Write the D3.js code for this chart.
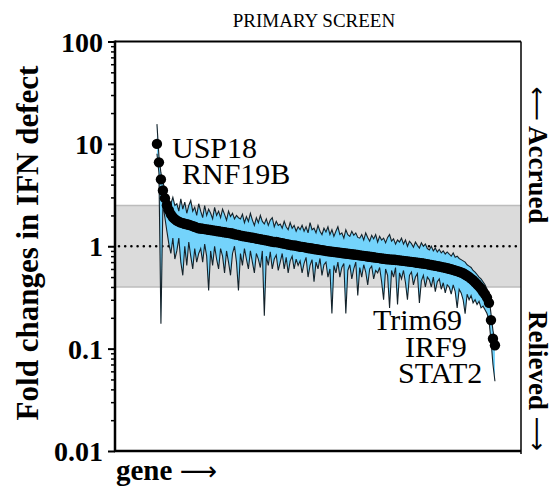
<!DOCTYPE html>
<html><head><meta charset="utf-8">
<script src="https://cdn.jsdelivr.net/npm/d3@7"></script>
<style>body{margin:0;background:#fff}svg{display:block}
text{font-family:"Liberation Serif","Times New Roman","DejaVu Serif",serif}
tspan.arr{font-family:"DejaVu Sans",sans-serif;font-weight:normal}</style>
</head><body>
<svg id="chart" width="554" height="493"></svg>
<script>
// ---- data (fold changes, genes sorted by mean) ----
const meanFold = [
10.0,6.6,4.5,3.5,2.95,2.52,2.25,2.05,1.92,1.84,
1.78,1.74,1.70,1.68,
1.66,1.64,1.62,1.60,1.57,1.55,1.52,1.50,
1.49,1.48,1.47,1.46,1.45,1.44,1.43,1.42,1.41,1.40,1.39,1.38,1.37,1.36,1.35,1.34,1.33,1.31,1.30,1.29,
1.27,1.26,1.25,1.24,1.23,1.22,1.21,1.20,1.19,1.18,1.17,1.16,1.15,1.14,1.13,1.12,1.11,1.10,1.10,1.09,
1.08,1.07,1.06,1.05,1.04,1.03,1.02,1.02,1.01,1.00,
0.99,0.985,0.98,0.97,0.96,0.955,0.95,0.94,0.935,0.93,0.92,0.915,0.91,0.90,0.895,
0.89,0.885,0.88,0.875,0.87,0.865,0.86,0.855,0.85,0.845,0.84,0.835,0.83,0.825,0.82,
0.815,0.81,0.805,0.80,0.795,0.79,0.785,0.78,0.775,0.77,0.765,0.76,0.755,0.75,0.747,0.744,0.741,0.738,0.735,0.732,
0.728,0.724,0.72,0.716,0.712,0.708,0.704,0.70,0.695,0.69,0.686,0.682,0.678,0.673,0.668,
0.662,0.656,0.65,0.645,0.64,0.634,0.628,0.622,0.616,0.61,
0.603,0.596,0.588,0.58,0.572,0.563,0.554,0.545,
0.53,0.515,0.50,0.483,0.465,
0.445,0.425,0.405,0.385,0.36,0.34,0.315,
0.28,0.19,0.125,0.108
];
const upperFold = [
15.6,7.6,5.2,4.2,3.6,3.1,2.9,2.6,3.0,2.5,
2.6,2.2,2.9,2.3,2.7,2.1,2.5,2.8,2.2,2.4,2.0,2.6,
2.2,1.9,2.5,2.0,2.3,2.1,1.85,2.4,2.0,2.2,1.9,2.3,2.05,1.8,2.2,1.95,2.1,1.85,2.0,1.9,
1.85,2.05,1.7,1.95,1.75,2.1,1.8,1.6,1.9,1.7,2.0,1.75,1.65,1.85,1.6,1.8,1.9,1.55,1.75,1.6,
1.65,1.5,1.75,1.55,1.45,1.7,1.5,1.6,1.4,1.55,
1.45,1.6,1.4,1.55,1.35,1.7,1.45,1.5,1.35,1.6,1.4,1.3,1.5,1.38,1.55,
1.3,1.45,1.25,1.4,1.55,1.3,1.35,1.2,1.45,1.3,1.25,1.4,1.28,1.35,1.22,
1.2,1.3,1.15,1.35,1.22,1.12,1.28,1.18,1.3,1.1,1.25,1.15,1.2,1.08,1.22,1.3,1.12,1.18,1.05,1.15,
1.1,1.2,1.05,1.15,1.0,1.12,1.06,0.98,1.1,1.02,0.96,1.08,1.0,1.05,0.95,
0.92,1.0,0.9,0.96,0.88,0.93,0.86,0.9,0.84,0.88,
0.84,0.8,0.86,0.78,0.8,0.76,0.74,0.72,
0.7,0.66,0.64,0.62,0.58,
0.56,0.53,0.5,0.48,0.45,0.42,0.38,
0.32,0.22,0.15,0.12
];
const lowerFold = [
8.0,5.2,0.175,2.6,1.9,1.4,1.05,0.85,1.2,0.75,
0.9,1.2,0.7,0.52,1.0,0.65,1.1,0.8,0.6,0.95,0.7,0.85,
0.95,0.7,1.05,0.8,0.37,0.9,0.65,1.0,0.75,0.6,0.95,0.8,0.55,0.9,0.7,0.52,0.85,1.0,0.7,0.37,
0.85,0.65,0.95,0.75,0.6,0.9,0.7,0.55,0.85,0.75,0.62,0.9,0.21,0.8,0.65,0.88,0.6,0.75,0.82,0.58,
0.7,0.85,0.6,0.78,0.55,0.72,0.8,0.6,0.75,0.65,
0.72,0.55,0.68,0.78,0.5,0.65,0.74,0.45,0.7,0.6,0.76,0.52,0.66,0.7,0.5,
0.6,0.22,0.65,0.55,0.7,0.5,0.62,0.68,0.22,0.58,0.66,0.48,0.6,0.7,0.33,
0.62,0.5,0.66,0.56,0.42,0.6,0.64,0.48,0.58,0.55,0.62,0.45,0.30,0.6,0.52,0.25,0.58,0.5,0.62,0.27,
0.55,0.48,0.58,0.44,0.30,0.52,0.56,0.42,0.5,0.54,0.28,0.46,0.52,0.4,0.5,
0.47,0.4,0.5,0.36,0.45,0.48,0.38,0.44,0.35,0.42,
0.4,0.34,0.42,0.36,0.25,0.38,0.35,0.3,
0.22,0.34,0.3,0.33,0.28,
0.3,0.27,0.29,0.25,0.26,0.24,0.22,
0.19,0.12,0.07,0.048
];
const majorTicks = [0.01, 0.1, 1, 10, 100];
const majorTickLabels = ["0.01", "0.1", "1", "10", "100"];
const minorMultipliers = [2,3,4,5,6,7,8,9];
const neutralBand = [0.4, 2.5];
const neutralLine = 1;
const topGenes = ["USP18", "RNF19B"];
const bottomGenes = ["Trim69", "IRF9", "STAT2"];

// ---- layout ----
const svg = d3.select("#chart");
const L = 115, R = 521, T = 41.5, B = 451;
const N = meanFold.length;
const x = d3.scaleLinear().domain([-21.1, N - 1 + 13.1]).range([L, R]);
const y = d3.scaleLog().domain([0.01, 100]).range([B, T]);
const genes = d3.range(N).map(i => ({i, m: meanFold[i], u: upperFold[i], l: lowerFold[i]}));

// grey neutral band
svg.append("rect").attr("x", L).attr("width", R - L)
  .attr("y", y(neutralBand[1])).attr("height", y(neutralBand[0]) - y(neutralBand[1]))
  .attr("fill", "#dbdbdb");
neutralBand.forEach(v => svg.append("line").attr("x1", L).attr("x2", R)
  .attr("y1", y(v)).attr("y2", y(v)).attr("stroke", "#bcbcbc").attr("stroke-width", 1.5));

// dotted line at 1
svg.append("line").attr("x1", L + 4).attr("x2", R).attr("y1", y(neutralLine)).attr("y2", y(neutralLine))
  .attr("stroke", "#000").attr("stroke-width", 2.6).attr("stroke-linecap", "round")
  .attr("stroke-dasharray", "0,6.2");

// range area
const area = d3.area().x(d => x(d.i)).y0(d => y(d.l)).y1(d => y(d.u));
svg.append("path").datum(genes).attr("d", area).attr("fill", "#74d3fb");
const upLine = d3.line().x(d => x(d.i)).y(d => y(d.u));
const loLine = d3.line().x(d => x(d.i)).y(d => y(d.l));
[upLine, loLine].forEach(fn => svg.append("path").datum(genes).attr("d", fn)
  .attr("fill", "none").attr("stroke", "#14222a").attr("stroke-width", 1.1).attr("stroke-linejoin", "miter"));

// mean points
svg.append("g").selectAll("circle").data(genes).join("circle")
  .attr("cx", d => x(d.i)).attr("cy", d => y(d.m)).attr("r", 5.2).attr("fill", "#000");

// frame
svg.append("line").attr("x1", L).attr("x2", R).attr("y1", T).attr("y2", T).attr("stroke", "#000").attr("stroke-width", 2);
svg.append("line").attr("x1", R).attr("x2", R).attr("y1", T).attr("y2", B + 3).attr("stroke", "#000").attr("stroke-width", 1.5);
svg.append("line").attr("x1", L - 1).attr("x2", R).attr("y1", B).attr("y2", B).attr("stroke", "#000").attr("stroke-width", 2.5);

// y axis
const minorVals = [];
majorTicks.slice(0, -1).forEach(d => minorMultipliers.forEach(m => minorVals.push(d * m)));
const gMinor = svg.append("g").attr("transform", `translate(${L},0)`)
  .call(d3.axisLeft(y).tickValues(minorVals).tickSize(4).tickFormat(""));
gMinor.select(".domain").remove();
gMinor.selectAll("line").attr("stroke-width", 1.5);
const gMajor = svg.append("g").attr("transform", `translate(${L},0)`)
  .call(d3.axisLeft(y).tickValues(majorTicks).tickSize(7).tickPadding(5)
    .tickFormat((d, i) => majorTickLabels[i]));
gMajor.select(".domain").remove();
gMajor.attr("font-family", null);
gMajor.selectAll("line").attr("stroke-width", 2);
gMajor.selectAll("text").attr("font-weight", "bold")
  .attr("font-size", 28).attr("fill", "#000").attr("dy", "0.34em");
svg.append("line").attr("x1", L).attr("x2", L).attr("y1", T - 1).attr("y2", B + 1).attr("stroke", "#000").attr("stroke-width", 2.5);

// titles
svg.append("text").attr("x", 314).attr("y", 27).attr("text-anchor", "middle")
  .attr("font-size", 19).text("PRIMARY SCREEN");
svg.append("text").attr("transform", "translate(38,243) rotate(-90)").attr("text-anchor", "middle")
  .attr("font-weight", "bold").attr("font-size", 31)
  .text("Fold changes in IFN defect");
const gx = svg.append("text").attr("x", 116).attr("y", 480)
  .attr("font-weight", "bold").attr("font-size", 29);
gx.append("tspan").text("gene ");
gx.append("tspan").attr("class", "arr").attr("font-size", 26).text("\u27F6");
const acc = svg.append("text").attr("transform", "translate(529,155) rotate(90)").attr("text-anchor", "middle")
  .attr("font-weight", "bold").attr("font-size", 27);
acc.append("tspan").attr("class", "arr").attr("font-size", 24).text("\u27F5");
acc.append("tspan").text(" Accrued");
const rel = svg.append("text").attr("transform", "translate(529,381) rotate(90)").attr("text-anchor", "middle")
  .attr("font-weight", "bold").attr("font-size", 27);
rel.append("tspan").text("Relieved ");
rel.append("tspan").attr("class", "arr").attr("font-size", 24).text("\u27F6");

// gene labels
const topPos = [[172, 157.5], [182, 184]];
topGenes.forEach((g, k) => svg.append("text").attr("x", topPos[k][0]).attr("y", topPos[k][1])
  .attr("font-size", 30).text(g));
const botPos = [[373, 330], [405, 357], [398, 383]];
bottomGenes.forEach((g, k) => svg.append("text").attr("x", botPos[k][0]).attr("y", botPos[k][1])
  .attr("font-size", 30).text(g));
</script>
</body></html>
